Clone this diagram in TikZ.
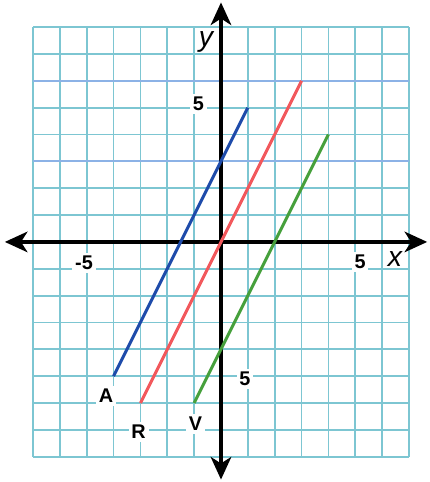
\documentclass[tikz,border=0pt]{standalone}
\usepackage{fontspec}
\setmainfont{Liberation Sans}
\usetikzlibrary{arrows.meta}
\definecolor{gridc}{RGB}{125,198,210}
\definecolor{gridb}{RGB}{140,178,230}
\definecolor{lblue}{RGB}{30,75,170}
\definecolor{lred}{RGB}{242,88,92}
\definecolor{lgreen}{RGB}{70,160,60}
\begin{document}
\begin{tikzpicture}[x=0.5cm,y=0.5cm,
  gridline/.style={draw=gridc,line width=0.95pt},
  bandline/.style={draw=gridb,line width=1pt},
  axisline/.style={draw=black,line width=2.1pt,{Stealth[length=4.2mm,width=3.8mm,inset=1.2mm]}-{Stealth[length=4.2mm,width=3.8mm,inset=1.2mm]}},
  graphline/.style={line width=1.6pt},
  numlbl/.style={fill=white,inner sep=1.5pt,font=\fontsize{10.5}{11}\selectfont\bfseries},
  axislbl/.style={inner sep=0pt,font=\fontsize{15}{15}\selectfont\itshape}]
\useasboundingbox (-8.23,-8.94) rectangle (7.75,9.01);
% grid
\foreach \i in {-7,...,7} \draw[gridline] (\i,-8) -- (\i,8);
\foreach \j in {-8,...,8} \draw[gridline] (-7,\j) -- (7,\j);
\draw[bandline] (-7,6) -- (7,6);
\draw[bandline] (-7,3) -- (7,3);
% axes
\coordinate (xl) at (-8.05,0);
\coordinate (xr) at (7.68,0);
\coordinate (yb) at (0,-8.85);
\coordinate (yt) at (0,8.92);
\draw[axisline] (xl) -- (xr);
\draw[axisline] (yb) -- (yt);
% lines
\coordinate (a1) at (-4,-5);
\coordinate (a2) at (1,5);
\coordinate (r1) at (-3,-6);
\coordinate (r2) at (3,6);
\coordinate (v1) at (-1,-6);
\coordinate (v2) at (4,4);
\draw[graphline,lblue] (a1) -- (a2);
\draw[graphline,lred] (r1) -- (r2);
\draw[graphline,lgreen] (v1) -- (v2);
% labels
\node[numlbl] (ly5) at (-0.84,5.14) {5};
\node[numlbl] (lxm5) at (-5.10,-0.78) {-5};
\node[numlbl] (lx5) at (5.18,-0.74) {5};
\node[numlbl] (lym5) at (0.89,-5.10) {5};
\node[numlbl] (lA) at (-4.28,-5.74) {A};
\node[numlbl] (lR) at (-3.07,-7.08) {R};
\node[numlbl] (lV) at (-0.95,-6.78) {V};
\node[axislbl] (lx) at (6.48,-0.63) {x};
\node[axislbl] (ly) at (-0.56,7.45) {y};
\end{tikzpicture}
\end{document}
